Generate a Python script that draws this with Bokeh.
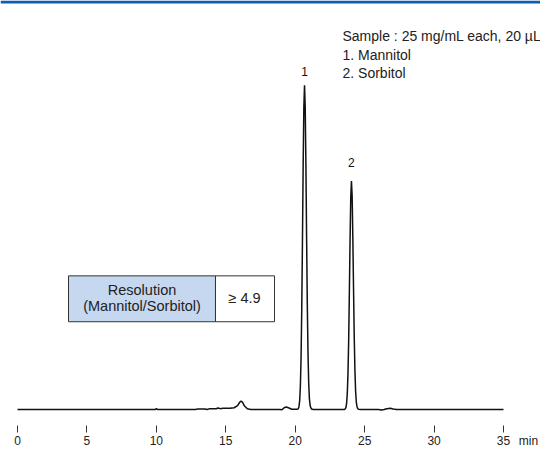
from bokeh.plotting import figure
from bokeh.models import Range1d, BoxAnnotation, FixedTicker, LinearAxis
from bokeh.core.properties import value
from bokeh.embed import file_html
from bokeh.resources import INLINE

# ---- chromatogram data (time in min, signal in arbitrary units) ----
time = [0.0, 9.9, 10.0, 10.1, 12.8, 13.0, 13.5, 13.65, 13.8, 14.3, 14.45, 14.6, 14.8,
        15.3, 15.6, 15.85, 16.0, 16.1, 16.2, 16.35, 16.55, 16.8, 18.9, 19.05, 19.2,
        19.35, 19.55, 19.75, 19.95,
        20.17, 20.22, 20.27, 20.32, 20.37, 20.42, 20.47, 20.52, 20.57, 20.62, 20.67,
        20.72, 20.77, 20.82, 20.87, 20.92, 20.97, 21.02, 21.07, 21.12, 21.17, 21.3,
        23.5, 23.55, 23.6, 23.65, 23.7, 23.75, 23.8, 23.85, 23.9, 23.95, 24.0, 24.05,
        24.1, 24.15, 24.2, 24.25, 24.3, 24.35, 24.4, 24.45, 24.5, 24.55, 24.7,
        26.0, 26.2, 26.4, 26.6, 26.85, 27.05, 27.3, 35.0]
signal = [0, 0, 0.8, 0, 0, 0.6, 0.6, 0.0, 0.7, 0.8, 1.6, 0.9, 1.4,
          1.2, 1.8, 4.0, 7.3, 8.5, 7.5, 3.5, 0.8, 0, 0, -0.3, 1.8,
          2.5, 1.5, 0.3, 0.3,
          0.3, 0.8, 2.9, 8.7, 23, 51, 100, 167, 242, 302, 325,
          303, 245, 172, 106, 57, 27, 11, 4.5, 1.8, 0.6, 0,
          0, 0, 0.6, 2.0, 6.1, 16, 36, 70, 118, 170, 213, 229,
          214, 172, 121, 73, 39, 18, 7.5, 2.8, 1.0, 0.3, 0,
          0, -0.5, 0, 0.8, 1.3, 0.5, 0, 0]

peak_labels = ["1", "2"]
peak_times = [20.67, 24.05]
peak_heights = [325, 229]
peak_label_gap = [14, 19]

x_ticks = [0, 5, 10, 15, 20, 25, 30, 35]
unit_pos = 36.8
unit_label = "min"
sample_lines = ["Sample : 25 mg/mL each, 20 µL", "1. Mannitol", "2. Sorbitol"]
resolution_label = ["Resolution", "(Mannitol/Sorbitol)"]
resolution_value = "≥ 4.9"

FONT = value("Liberation Sans")
TXT = "#222222"

p = figure(width=540, height=450, output_backend="svg", toolbar_location=None,
           x_range=Range1d(-1.2243, 37.664), y_range=Range1d(-16, 410),
           y_axis_location=None, min_border=0, min_border_bottom=24)
p.outline_line_color = None
p.xgrid.visible = False
p.ygrid.visible = False
p.background_fill_color = "white"
p.border_fill_color = "white"

# main time axis: tick marks and tick labels
ax = p.xaxis[0]
ax.ticker = FixedTicker(ticks=x_ticks)
ax.axis_line_color = None
ax.major_tick_in = 0
ax.major_tick_out = 7
ax.major_tick_line_color = "#333333"
ax.minor_tick_line_color = None
ax.major_label_standoff = 3
ax.major_label_text_font = "Liberation Sans"
ax.major_label_text_font_size = "12px"
ax.major_label_text_color = TXT

# unit label, set on the same row as the tick labels
unit_ax = LinearAxis(ticker=FixedTicker(ticks=[unit_pos]),
                     major_label_overrides={unit_pos: unit_label})
unit_ax.axis_line_color = None
unit_ax.major_tick_in = 0
unit_ax.major_tick_out = 0
unit_ax.major_tick_line_color = None
unit_ax.minor_tick_line_color = None
unit_ax.major_label_standoff = -14
unit_ax.major_label_text_font = "Liberation Sans"
unit_ax.major_label_text_font_size = "12px"
unit_ax.major_label_text_color = TXT
p.add_layout(unit_ax, "below")

# blue band at top
p.add_layout(BoxAnnotation(bottom=407, fill_color="#0b5db6", fill_alpha=1, line_color=None))

# chromatogram
p.line(time, signal, line_color="#111111", line_width=1.5)

# peak labels
p.text(x=peak_times, y=[h + g for h, g in zip(peak_heights, peak_label_gap)],
       text=peak_labels, text_align="center", text_baseline="middle", text_font=FONT,
       text_font_size="12px", text_color="#111111")

# sample description
p.text(x=[23.405] * 3, y=[374, 355, 337], text=sample_lines, text_align="left",
       text_baseline="middle", text_font=FONT, text_font_size="14px", text_color=TXT)

# resolution table
p.quad(left=[3.673], right=[14.259], top=[134], bottom=[88], fill_color="#c5d8f0",
       line_color="#333333", line_width=1)
p.quad(left=[14.259], right=[18.508], top=[134], bottom=[88], fill_color="white",
       line_color="#333333", line_width=1)
p.text(x=[8.966, 8.966], y=[120, 104], text=resolution_label, text_align="center",
       text_baseline="middle", text_font=FONT, text_font_size="14.5px", text_color=TXT)
p.text(x=[16.35], y=[112], text=[resolution_value], text_align="center",
       text_baseline="middle", text_font=FONT, text_font_size="14.5px", text_color=TXT)

open("out.html", "w").write(file_html(p, INLINE))
